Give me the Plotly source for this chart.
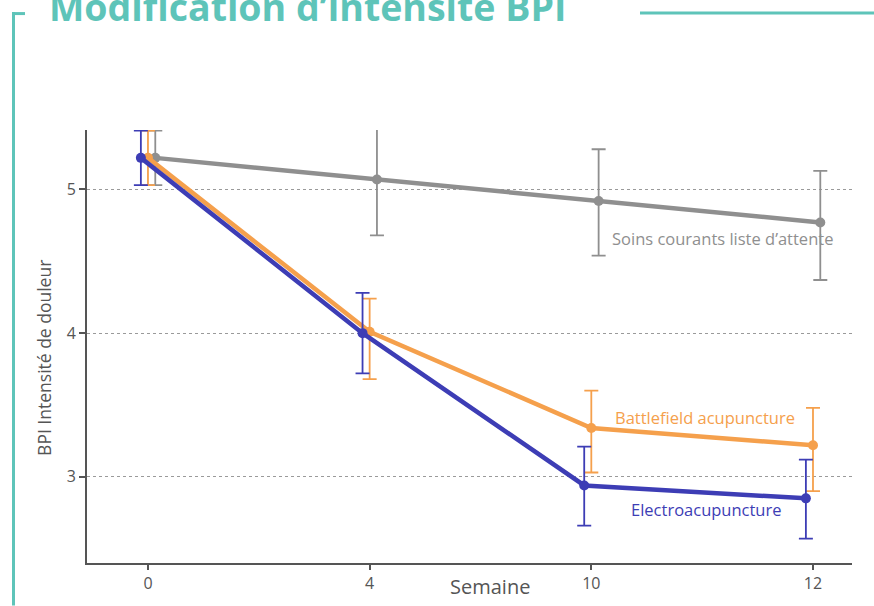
import plotly.graph_objects as go

weeks = ["0", "4", "10", "12"]

soins = [5.22, 5.07, 4.92, 4.77]
soins_plus = [0.19, 0.37, 0.36, 0.36]
soins_minus = [0.19, 0.39, 0.38, 0.40]

battlefield = [5.22, 4.01, 3.34, 3.22]
battlefield_plus = [0.19, 0.23, 0.26, 0.26]
battlefield_minus = [0.19, 0.33, 0.31, 0.32]

electro = [5.22, 4.00, 2.94, 2.85]
electro_plus = [0.19, 0.28, 0.27, 0.27]
electro_minus = [0.19, 0.28, 0.28, 0.28]

series_names = ["Soins courants liste d\u2019attente", "Battlefield acupuncture", "Electroacupuncture"]

GREY = "#8f8f8f"
ORANGE = "#f5a04c"
BLUE = "#3d3db5"
TEAL = "#5ec4b9"
AXIS = "#555555"

idx = list(range(len(weeks)))

fig = go.Figure()

def add_series(vals, plus, minus, color, offset):
    fig.add_trace(go.Scatter(
        x=[i + offset for i in idx], y=vals,
        mode="lines+markers",
        line=dict(color=color, width=4.5),
        marker=dict(color=color, size=10),
        error_y=dict(type="data", symmetric=False, array=plus, arrayminus=minus,
                     color=color, thickness=1.8, width=7),
        showlegend=False, hoverinfo="skip",
    ))

add_series(soins, soins_plus, soins_minus, GREY, 0.033)
add_series(battlefield, battlefield_plus, battlefield_minus, ORANGE, 0.0)
add_series(electro, electro_plus, electro_minus, BLUE, -0.032)

L, R, T, B = 87, 22, 130, 39
W, H = 874, 606
pw, ph = W - L - R, H - T - B

def px(xp):
    return (xp - L) / pw

def py(yp):
    return (H - B - yp) / ph

font = "Open Sans, Liberation Sans, sans-serif"

annotations = [
    dict(text="Modification d\u2019intensité BPI", xref="paper", yref="paper",
         x=px(47), y=py(33), xanchor="left", yanchor="bottom", showarrow=False,
         font=dict(family=font, size=37.5, color=TEAL, weight="bold")),
    dict(text=series_names[0], xref="paper", yref="paper", x=px(722), y=py(240),
         xanchor="center", yanchor="middle", showarrow=False,
         font=dict(family=font, size=16.5, color=GREY)),
    dict(text=series_names[1], xref="paper", yref="paper", x=px(705), y=py(420),
         xanchor="center", yanchor="middle", showarrow=False,
         font=dict(family=font, size=16.5, color=ORANGE)),
    dict(text=series_names[2], xref="paper", yref="paper", x=px(706), y=py(513),
         xanchor="center", yanchor="middle", showarrow=False,
         font=dict(family=font, size=16.5, color=BLUE)),
    dict(text="Semaine", xref="paper", yref="paper", x=px(490), y=py(591),
         xanchor="center", yanchor="middle", showarrow=False,
         font=dict(family=font, size=20, color=AXIS)),
    dict(text="BPI Intensité de douleur", xref="paper", yref="paper", x=px(44), y=py(360),
         xanchor="center", yanchor="middle", showarrow=False, textangle=-90,
         font=dict(family=font, size=17.5, color=AXIS)),
]

shapes = [
    dict(type="line", xref="paper", yref="paper", x0=px(13.5), x1=px(13.5), y0=py(11), y1=py(610),
         line=dict(color=TEAL, width=3)),
    dict(type="line", xref="paper", yref="paper", x0=px(12), x1=px(25), y0=py(12.5), y1=py(12.5),
         line=dict(color=TEAL, width=3)),
    dict(type="line", xref="paper", yref="paper", x0=px(640), x1=px(880), y0=py(12), y1=py(12),
         line=dict(color=TEAL, width=3)),
]

fig.update_layout(
    width=W, height=H,
    margin=dict(l=L, r=R, t=T, b=B),
    paper_bgcolor="white", plot_bgcolor="white",
    annotations=annotations, shapes=shapes,
    font=dict(family=font, color=AXIS),
)

fig.update_xaxes(
    range=[-0.275, 3.176], tickvals=idx, ticktext=weeks,
    showline=True, linecolor=AXIS, linewidth=2,
    ticks="outside", ticklen=5, tickwidth=1.5, tickcolor=AXIS,
    tickfont=dict(size=16, color=AXIS), showgrid=False, zeroline=False,
)
fig.update_yaxes(
    range=[2.4, 5.414], tickvals=[3, 4, 5],
    showline=True, linecolor=AXIS, linewidth=2,
    ticks="outside", ticklen=6, tickwidth=1.5, tickcolor=AXIS,
    tickfont=dict(size=16, color=AXIS),
    showgrid=True, gridcolor="#9a9a9a", gridwidth=1, griddash="dot", zeroline=False,
)

fig.write_html("out.html", config={"displayModeBar": False},
               post_script="document.body.style.margin='0';document.body.style.overflow='hidden';")
